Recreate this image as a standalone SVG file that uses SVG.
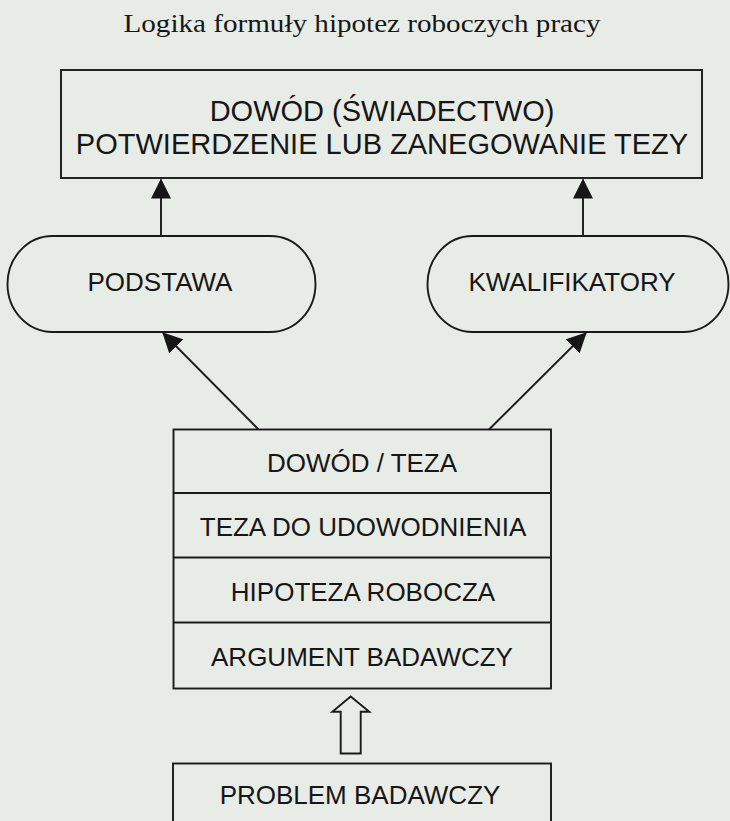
<svg xmlns="http://www.w3.org/2000/svg" width="730" height="821" viewBox="0 0 730 821">
<defs>
<style>
.bg{fill:#e8ece7}
.box{fill:none;stroke:#1a1a1a;stroke-width:1.9}
.con{fill:none;stroke:#1a1a1a;stroke-width:1.9}
.t{font-family:"Liberation Sans",Arial,sans-serif;font-size:26px;fill:#161616;text-anchor:middle}
.tb{font-size:29px}
.title{font-family:"Liberation Serif","Times New Roman",serif;font-size:26px;fill:#161616;text-anchor:middle}
</style>
<marker id="ah" markerUnits="userSpaceOnUse" viewBox="0 0 20 20" refX="19" refY="10" markerWidth="20" markerHeight="20" orient="auto">
<path d="M0,0 L20,10 L0,20 Z" fill="#161616"/>
</marker>
</defs>
<rect class="bg" x="0" y="0" width="730" height="821"/>
<text class="title" x="362" y="32" textLength="477" lengthAdjust="spacingAndGlyphs">Logika formuły hipotez roboczych pracy</text>
<g id="dowod">
<rect class="box" x="61" y="70" width="641" height="108"/>
<text class="t tb" x="382" y="121">DOWÓD (ŚWIADECTWO)</text>
<text class="t tb" x="382" y="153.5">POTWIERDZENIE LUB ZANEGOWANIE TEZY</text>
</g>
<g id="podstawa">
<rect class="box" x="7.5" y="236" width="308" height="96" rx="45" ry="48"/>
<text class="t" x="160" y="290.5">PODSTAWA</text>
</g>
<g id="kwalifikatory">
<rect class="box" x="427.5" y="236" width="301" height="96" rx="45" ry="48"/>
<text class="t" x="572" y="290.5">KWALIFIKATORY</text>
</g>
<g id="stos">
<rect class="box" x="173.5" y="429.5" width="377.5" height="259"/>
<line class="box" x1="173.5" y1="493" x2="551" y2="493"/>
<line class="box" x1="173.5" y1="557.5" x2="551" y2="557.5"/>
<line class="box" x1="173.5" y1="622.5" x2="551" y2="622.5"/>
<text class="t" x="362" y="471.5">DOWÓD / TEZA</text>
<text class="t" x="363" y="535.5">TEZA DO UDOWODNIENIA</text>
<text class="t" x="363" y="601">HIPOTEZA ROBOCZA</text>
<text class="t" x="362" y="665.5">ARGUMENT BADAWCZY</text>
</g>
<g id="problem">
<rect class="box" x="173" y="763.5" width="378" height="80"/>
<text class="t" x="360" y="803.5">PROBLEM BADAWCZY</text>
</g>
<g id="connectors">
<line class="con" x1="161" y1="236" x2="161" y2="179.5" marker-end="url(#ah)"/>
<line class="con" x1="583" y1="236" x2="583" y2="179.5" marker-end="url(#ah)"/>
<line class="con" x1="258.5" y1="429.5" x2="163" y2="333" marker-end="url(#ah)"/>
<line class="con" x1="489" y1="429.5" x2="586" y2="333" marker-end="url(#ah)"/>
<polygon class="con" points="350.7,696.5 332.3,711.7 340.7,711.7 340.7,753.5 360.7,753.5 360.7,711.7 369.3,711.7"/>
</g>
</svg>
